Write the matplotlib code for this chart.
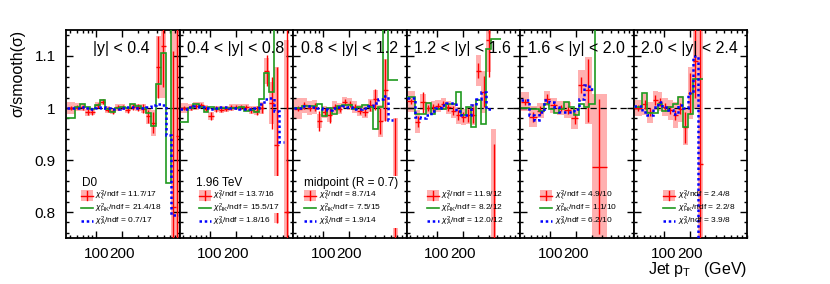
import numpy as np
import matplotlib
matplotlib.use('Agg')
from matplotlib import pyplot as plt
from matplotlib.ticker import FixedLocator, NullFormatter
from matplotlib.patches import Rectangle

plt.rcParams['font.family'] = ['Liberation Sans', 'DejaVu Sans']
plt.rcParams['mathtext.fontset'] = 'custom'
plt.rcParams['mathtext.rm'] = 'Liberation Sans'
plt.rcParams['mathtext.it'] = 'Liberation Sans:italic'
plt.rcParams['mathtext.bf'] = 'Liberation Sans:bold'

nan = np.nan

# pT bin edges (GeV) used by the model curves and most of the data
model_edges = [46, 57, 65, 75, 85, 97, 111, 127, 145, 166, 190, 217, 248, 283,
               324, 370, 423, 483, 552, 631, 721, 824, 900]

titles = ['|y| < 0.4', '0.4 < |y| < 0.8', '0.8 < |y| < 1.2',
          '1.2 < |y| < 1.6', '1.6 < |y| < 2.0', '2.0 < |y| < 2.4']
headers = ['D0', '1.96 TeV', 'midpoint (R = 0.7)', None, None, None]
chi_data = ['11.7/17', '13.7/16', '8.7/14', '11.9/12', '4.9/10', '2.4/8']
chi_hk = ['21.4/18', '15.5/17', '7.5/15', '8.2/12', '1.1/10', '2.2/8']
chi_a = ['0.7/17', '1.8/16', '1.9/14', '12.0/12', '6.2/10', '3.9/8']

# |y| < 0.4
red1 = [1.000, 1.002, 1.001, 0.992, 0.993, 1.005, 1.012, 0.997, 0.994, 1.001, 1.002,
        0.996, 1.002, 1.001, 0.999, 0.984, 0.972, 1.079, 1.120, nan, 0.810, 0.947]
stat1 = [0.004, 0.004, 0.004, 0.006, 0.006, 0.005, 0.005, 0.005, 0.005, 0.004, 0.004,
         0.005, 0.005, 0.006, 0.008, 0.012, 0.02, 0.06, 0.08, nan, 0.3, 0.35]
sys1 = [0.012, 0.008, 0.007, 0.007, 0.007, 0.006, 0.006, 0.006, 0.006, 0.006, 0.006,
        0.006, 0.006, 0.007, 0.009, 0.015, 0.025, 0.06, 0.1, nan, 0.4, 0.4]
green1 = [0.980, 1.002, 1.007, 1.002, 0.998, 1.006, 1.016, 0.998, 0.992, 1.000, 1.001,
          1.000, 1.008, 1.004, 1.000, 0.990, 0.966, 1.047, 1.105, 0.855, 1.300]
blue1 = [1.000, 1.000, 1.001, 1.000, 0.999, 1.000, 1.002, 1.000, 0.999, 0.999, 1.000,
         1.001, 1.001, 1.000, 1.000, 1.002, 1.005, 1.007, 1.005, 0.948, 0.795, 0.795]

# 0.4 < |y| < 0.8
red2 = [1.000, 1.001, 1.004, 1.005, 0.999, 0.985, 0.998, 0.997, 0.998, 1.001, 1.002,
        1.002, 1.001, 0.996, 0.995, 1.000, 1.072, 1.010, 0.928, nan, 0.800]
stat2 = [0.004, 0.004, 0.004, 0.004, 0.005, 0.008, 0.005, 0.004, 0.004, 0.004, 0.004,
         0.004, 0.005, 0.006, 0.008, 0.01, 0.03, 0.05, 0.15, nan, 0.35]
sys2 = [0.01, 0.007, 0.007, 0.007, 0.007, 0.008, 0.006, 0.006, 0.006, 0.006, 0.006,
        0.006, 0.006, 0.007, 0.008, 0.012, 0.025, 0.04, 0.15, nan, 0.33]
green2 = [0.973, 1.000, 1.008, 1.002, 0.993, 1.001, 0.999, 1.000, 1.000, 1.000, 1.000,
          1.001, 0.994, 0.996, 0.993, 1.018, 1.068, 1.030, 1.300]
blue2 = [0.998, 1.001, 1.003, 1.002, 1.000, 0.999, 1.000, 1.001, 1.001, 1.000, 1.000,
         0.999, 0.998, 0.999, 1.000, 1.008, 1.018, 1.020, 0.995, 0.935]

# 0.8 < |y| < 1.2
red3 = [0.999, 1.005, 1.000, 1.002, 0.975, 0.992, 0.986, 1.002, 0.999, 1.011, 1.008,
        1.002, 0.995, 0.992, 1.005, 1.017, 0.975, 1.035, nan, 0.830]
stat3 = [0.005, 0.006, 0.006, 0.008, 0.02, 0.008, 0.015, 0.006, 0.006, 0.006, 0.006,
         0.006, 0.006, 0.008, 0.01, 0.02, 0.025, 0.06, nan, 0.15]
sys3 = [0.02, 0.015, 0.014, 0.013, 0.013, 0.012, 0.012, 0.011, 0.011, 0.011, 0.011,
        0.011, 0.011, 0.011, 0.013, 0.018, 0.03, 0.06, nan, 0.15]
green3 = [1.000, 1.004, 1.004, 1.004, 1.007, 0.985, 1.000, 0.988, 1.004, 1.005, 1.005,
          0.999, 1.001, 1.005, 1.002, 0.960, 1.002, 1.300, 1.053, 1.053]
blue3 = [1.000, 1.004, 1.003, 1.001, 1.000, 0.998, 0.997, 1.000, 1.002, 1.004, 1.002,
         0.999, 0.998, 1.000, 1.003, 1.010, 1.018, 1.024, 0.976]

# 1.2 < |y| < 1.6
red4 = [1.013, 0.974, 1.011, 1.000, 1.001, 1.004, 1.008, 1.001, 0.995, 0.986, 0.983,
        0.986, 0.987, 1.072, 1.031, 1.130, 0.750]
stat4 = [0.005, 0.01, 0.02, 0.006, 0.006, 0.006, 0.006, 0.006, 0.008, 0.01, 0.01,
         0.012, 0.015, 0.015, 0.03, 0.07, 0.18]
sys4 = [0.02, 0.022, 0.015, 0.012, 0.012, 0.012, 0.012, 0.012, 0.014, 0.016, 0.016,
        0.016, 0.02, 0.03, 0.04, 0.06, 0.21]
green4 = [1.021, 0.988, 0.988, 1.010, 0.989, 0.999, 0.999, 1.008, 1.008, 1.031, 0.986,
          1.002, 0.963, 1.015, 0.970, 1.114, 1.133, 1.133]
blue4 = [1.020, 0.983, 0.980, 0.986, 0.995, 1.000, 1.005, 1.010, 1.010, 0.995, 0.987,
         0.986, 1.005, 1.018, 1.031, 0.999]

# 1.6 < |y| < 2.0 (wider data bins)
red5_edges = [46, 57, 70, 85, 100, 120, 145, 175, 210, 250, 300, 450]
red5 = [1.012, 0.983, 0.995, 1.018, 1.005, 1.000, 0.996, 0.980, 1.044, 1.034, 0.887]
stat5 = [0.006, 0.01, 0.008, 0.008, 0.006, 0.006, 0.007, 0.01, 0.015, 0.06, 0.13]
sys5 = [0.018, 0.02, 0.015, 0.015, 0.014, 0.014, 0.016, 0.02, 0.03, 0.065, 0.14]
green5 = [1.000, 0.999, 0.999, 0.994, 1.008, 0.999, 0.991, 0.999, 1.012, 1.002, 0.986,
          1.008, 1.002, 1.008, 1.300]
blue5 = [1.015, 0.986, 0.976, 0.992, 1.015, 1.012, 1.002, 0.992, 0.992, 0.992, 0.999,
         1.018, 1.044, 1.037]

# 2.0 < |y| < 2.4
red6 = [1.000, 1.007, 0.992, 1.015, 1.012, 1.002, 0.996, 0.986, 0.999, 0.963, 1.028,
        1.090, 0.893]
stat6 = [0.006, 0.008, 0.008, 0.01, 0.008, 0.008, 0.008, 0.01, 0.01, 0.03, 0.04, 0.07, 0.3]
sys6 = [0.015, 0.02, 0.02, 0.018, 0.018, 0.018, 0.02, 0.025, 0.025, 0.035, 0.05, 0.09, 0.4]
green6 = [1.001, 1.028, 0.991, 0.990, 1.008, 0.994, 1.001, 1.008, 1.021, 0.963, 0.989,
          1.056, 1.056]
blue6 = [1.003, 0.992, 0.986, 1.002, 1.012, 1.002, 0.996, 0.989, 1.005, 1.000, 1.028,
         1.100, 0.700]

red_sets = [(model_edges, red1, stat1, sys1), (model_edges, red2, stat2, sys2),
            (model_edges, red3, stat3, sys3), (model_edges, red4, stat4, sys4),
            (red5_edges, red5, stat5, sys5), (model_edges, red6, stat6, sys6)]
greens = [green1, green2, green3, green4, green5, green6]
blues = [blue1, blue2, blue3, blue4, blue5, blue6]

pink = '#ffb0b0'
green_c = '#1f9a1f'

# legend placement in panel pixels
sym_x0 = [14.5, 19, 11, 20, 20, 29.5]
head_x = [15.7, 16.5, 11, 0, 0, 0]
white_box = [None, (10, 176, 100, 213), (8, 176, 106, 228), None, None, None]

W, H = 830, 284
left0, pw, bot, top = 66, 113.5, 238, 30
ph = bot - top

fig = plt.figure(figsize=(W / 100, H / 100), dpi=100)

for i in range(6):
    ax = fig.add_axes([(left0 + i * pw) / W, (H - bot) / H, pw / W, ph / H])
    ax.set_xscale('log')
    ax.set_xlim(45, 910)
    ax.set_ylim(0.75, 1.15)

    edges, red, stat, sys = red_sets[i]
    e = np.array(edges[:len(red) + 1], float)
    lo, hi = e[:-1], e[1:]
    c = np.sqrt(lo * hi)
    v = np.array(red, float)
    st = np.array(stat, float)
    sy = np.array(sys, float)
    ok = ~np.isnan(v)
    ax.bar(lo[ok], 2 * sy[ok], width=(hi - lo)[ok], bottom=(v - sy)[ok], align='edge',
           color=pink, lw=0, zorder=1)
    ax.axhline(1, color='k', lw=0.9, ls=(0, (5, 3)), zorder=2)
    ax.errorbar(c[ok], v[ok], yerr=st[ok], xerr=[(c - lo)[ok], (hi - c)[ok]], fmt='none',
                ecolor='red', elinewidth=1.0, capsize=0, zorder=3)
    g = greens[i]
    ax.stairs(g, model_edges[:len(g) + 1], baseline=None, color=green_c, lw=1.2, zorder=4)
    b = blues[i]
    ax.stairs(b, model_edges[:len(b) + 1], baseline=None, color='blue', lw=1.8,
              ls=(0, (1, 1.1)), zorder=5)

    # ticks
    ax.tick_params(which='both', direction='in', top=True, right=True, width=1.0)
    ax.tick_params(which='major', length=5, labelsize=11)
    ax.tick_params(which='minor', length=2.5)
    ax.tick_params(axis='x', which='major', pad=6.5)
    ax.tick_params(axis='y', which='major', pad=7.5)
    ax.xaxis.set_major_locator(FixedLocator([100, 200]))
    ax.xaxis.set_minor_locator(FixedLocator([50, 60, 70, 80, 90, 300, 400, 500, 600, 700, 800, 900]))
    ax.xaxis.set_minor_formatter(NullFormatter())
    ax.set_xticklabels(['100', '200'])
    ax.yaxis.set_major_locator(FixedLocator([0.8, 0.9, 1.0, 1.1]))
    ax.yaxis.set_minor_locator(FixedLocator(np.arange(0.76, 1.15, 0.02)))
    if i == 0:
        ax.set_yticklabels(['0.8', '0.9', '1', '1.1'])
    else:
        ax.set_yticklabels([])
    for s in ax.spines.values():
        s.set_linewidth(1.3)

    # panel title
    if i == 0:
        ax.text(27 / pw, 0.913, titles[i], transform=ax.transAxes, ha='left', va='center',
                fontsize=11.5, zorder=10)
    else:
        ax.text(104.5 / pw, 0.913, titles[i], transform=ax.transAxes, ha='right', va='center',
                fontsize=11.5, zorder=10)

    # legend box
    if white_box[i] is not None:
        x0, y0, x1, y1 = white_box[i]
        ax.add_patch(Rectangle((x0 / pw, (bot - y1) / ph), (x1 - x0) / pw, (y1 - y0) / ph,
                               transform=ax.transAxes, facecolor='white', lw=0, zorder=6))
    if headers[i]:
        ax.text(head_x[i] / pw, (bot - 183) / ph, headers[i], transform=ax.transAxes,
                ha='left', va='center', fontsize=8.5, zorder=8)
    rows = [195.5, 208.3, 221.0]
    xs0 = sym_x0[i] / pw
    xs1 = (sym_x0[i] + 12) / pw
    xt = (sym_x0[i] + 14.5) / pw
    yr = [(bot - r) / ph for r in rows]
    hbox = 11 / ph
    ax.add_patch(Rectangle((xs0, yr[0] - hbox / 2), xs1 - xs0, hbox, transform=ax.transAxes,
                           facecolor=pink, lw=0, zorder=7))
    ax.plot([xs0, xs1], [yr[0], yr[0]], transform=ax.transAxes, color='red', lw=1.0, zorder=8)
    ax.plot([(xs0 + xs1) / 2] * 2, [yr[0] - hbox * 0.45, yr[0] + hbox * 0.45],
            transform=ax.transAxes, color='red', lw=1.0, zorder=8)
    ax.plot([xs0, xs1], [yr[1], yr[1]], transform=ax.transAxes, color=green_c, lw=1.2, zorder=8)
    ax.plot([xs0, xs1], [yr[2], yr[2]], transform=ax.transAxes, color='blue', lw=1.8,
            ls=(0, (1, 1.1)), zorder=8)
    labels = [r'$\chi^{2}_{\xi}$/ndf = ' + chi_data[i],
              r'$\chi^{2}_{\rm HK}$/ndf = ' + chi_hk[i],
              r'$\chi^{2}_{\rm A}$/ndf = ' + chi_a[i]]
    for lab, y in zip(labels, yr):
        ax.text(xt, y, lab, transform=ax.transAxes, ha='left', va='center',
                fontsize=6.0, zorder=8)

fig.text(18 / W, (H - 30) / H, 'σ/smooth(σ)', rotation=90,
         ha='center', va='top', fontsize=11.5)
fig.text(747 / W, (H - 274) / H, r'Jet p$_{\rm T}$   (GeV)', ha='right',
         va='baseline', fontsize=11.5)

fig.savefig('out.png', dpi=100)
